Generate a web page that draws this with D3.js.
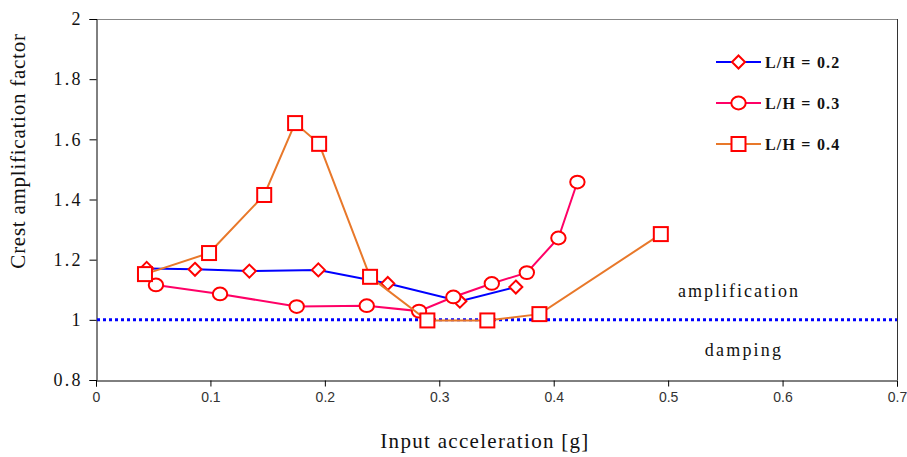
<!DOCTYPE html>
<html>
<head>
<meta charset="utf-8">
<script src="https://cdn.jsdelivr.net/npm/d3@7"></script>
<style>
  html, body { margin: 0; padding: 0; background: #fff; }
  svg { display: block; }
</style>
</head>
<body>
<svg id="chart" width="907" height="457"></svg>
<script>
// ---- data ----
const xTicks = [0, 0.1, 0.2, 0.3, 0.4, 0.5, 0.6, 0.7];
const yTicks = [0.8, 1, 1.2, 1.4, 1.6, 1.8, 2];

const lh02_x = [0.0443, 0.0865, 0.134, 0.1943, 0.255, 0.318, 0.3669];
const lh02_y = [1.171, 1.168, 1.162, 1.166, 1.121, 1.062, 1.109];

const lh03_x = [0.0524, 0.1084, 0.1754, 0.2366, 0.2823, 0.3123, 0.3459, 0.3765, 0.4041, 0.4207];
const lh03_y = [1.116, 1.086, 1.044, 1.047, 1.029, 1.076, 1.121, 1.157, 1.272, 1.458];

const lh04_x = [0.0428, 0.0988, 0.147, 0.174, 0.195, 0.2395, 0.2896, 0.342, 0.3875, 0.4936];
const lh04_y = [1.152, 1.222, 1.415, 1.654, 1.585, 1.143, 0.998, 0.998, 1.019, 1.285];

const seriesNames = ["L/H = 0.2", "L/H = 0.3", "L/H = 0.4"];
const referenceValue = 1;

(function () {
// ---- layout ----
const svg = d3.select("#chart");
const mLeft = 96, mRight = 897, mTop = 19, mBottom = 380;
const x = d3.scaleLinear().domain([0, 0.7]).range([mLeft, mRight]);
const y = d3.scaleLinear().domain([0.8, 2]).range([mBottom, mTop]);

const serif = "'Liberation Serif', 'Times New Roman', serif";
const narrow = "'Liberation Sans Narrow', 'Arial Narrow', 'Liberation Sans', sans-serif";

// frame: top (gray) and right
svg.append("line").attr("x1", mLeft).attr("x2", mRight).attr("y1", mTop + 0.5).attr("y2", mTop + 0.5)
  .attr("stroke", "#888").attr("stroke-width", 1);
svg.append("line").attr("x1", mRight + 0.5).attr("x2", mRight + 0.5).attr("y1", mTop).attr("y2", mBottom)
  .attr("stroke", "#333").attr("stroke-width", 1);

// axes
const yAxis = svg.append("g").attr("transform", `translate(${mLeft + 0.5},0)`)
  .call(d3.axisLeft(y).tickValues(yTicks).tickSize(7).tickPadding(9)
    .tickFormat(d => String(+d.toFixed(1))));
yAxis.selectAll("text").attr("font-family", serif).attr("font-size", 18)
  .attr("letter-spacing", 2.2).attr("dx", 2.2).attr("fill", "#111");
yAxis.selectAll("line, path").attr("stroke", "#000");

const xAxis = svg.append("g").attr("transform", `translate(0,${mBottom + 0.5})`)
  .call(d3.axisBottom(x).tickValues(xTicks).tickSize(6).tickPadding(6)
    .tickFormat(d => String(+d.toFixed(1))));
xAxis.selectAll("text").attr("font-family", narrow).attr("font-size", 14).attr("fill", "#333");
xAxis.selectAll("line, path").attr("stroke", "#000");

// reference dotted line
svg.append("line")
  .attr("x1", mLeft + 1).attr("x2", mRight)
  .attr("y1", y(referenceValue)).attr("y2", y(referenceValue))
  .attr("stroke", "#0000ff").attr("stroke-width", 3).attr("stroke-dasharray", "3,3");

// annotations
svg.append("text").attr("x", 739).attr("y", 297).attr("text-anchor", "middle")
  .attr("font-family", serif).attr("font-size", 18).attr("letter-spacing", 2).attr("fill", "#111")
  .text("amplification");
svg.append("text").attr("x", 744).attr("y", 356).attr("text-anchor", "middle")
  .attr("font-family", serif).attr("font-size", 18).attr("letter-spacing", 2.2).attr("fill", "#111")
  .text("damping");

// axis titles
svg.append("text").attr("x", 485).attr("y", 448).attr("text-anchor", "middle")
  .attr("font-family", serif).attr("font-size", 21).attr("letter-spacing", 1.3).attr("fill", "#111")
  .text("Input acceleration [g]");
svg.append("text").attr("transform", "translate(25,151) rotate(-90)").attr("text-anchor", "middle")
  .attr("font-family", serif).attr("font-size", 21).attr("letter-spacing", 0.75).attr("fill", "#111")
  .text("Crest amplification factor");

// series
const series = [
  { name: seriesNames[0], xs: lh02_x, ys: lh02_y, color: "#0000ff", marker: "diamond" },
  { name: seriesNames[1], xs: lh03_x, ys: lh03_y, color: "#ff0066", marker: "circle" },
  { name: seriesNames[2], xs: lh04_x, ys: lh04_y, color: "#e8782a", marker: "square" },
];

function drawMarker(g, type, cx, cy) {
  const stroke = "#ff0000";
  if (type === "diamond") {
    g.append("path").attr("d", `M${cx},${cy - 6.5}L${cx + 6.5},${cy}L${cx},${cy + 6.5}L${cx - 6.5},${cy}Z`)
      .attr("fill", "#fff").attr("stroke", stroke).attr("stroke-width", 2);
  } else if (type === "circle") {
    g.append("ellipse").attr("cx", cx).attr("cy", cy).attr("rx", 7.2).attr("ry", 6.4)
      .attr("fill", "#fff").attr("stroke", stroke).attr("stroke-width", 2);
  } else {
    g.append("rect").attr("x", cx - 7).attr("y", cy - 7).attr("width", 14).attr("height", 14)
      .attr("fill", "#fff").attr("stroke", stroke).attr("stroke-width", 2);
  }
}

const line = d3.line().x(d => x(d[0])).y(d => y(d[1]));
series.forEach(s => {
  const pts = s.xs.map((v, i) => [v, s.ys[i]]);
  const g = svg.append("g");
  g.append("path").attr("d", line(pts)).attr("fill", "none")
    .attr("stroke", s.color).attr("stroke-width", 2);
  pts.forEach(p => drawMarker(g, s.marker, x(p[0]), y(p[1])));
});

// legend
const legendY = [62, 103, 144];
series.forEach((s, i) => {
  const g = svg.append("g");
  g.append("line").attr("x1", 716).attr("x2", 761).attr("y1", legendY[i]).attr("y2", legendY[i])
    .attr("stroke", s.color).attr("stroke-width", 2);
  drawMarker(g, s.marker, 738.5, legendY[i]);
  g.append("text").attr("x", 765).attr("y", legendY[i] + 5.5)
    .attr("font-family", serif).attr("font-size", 16).attr("font-weight", "bold")
    .attr("letter-spacing", 1.2).attr("fill", "#111")
    .text(s.name);
});
})();
</script>
</body>
</html>
